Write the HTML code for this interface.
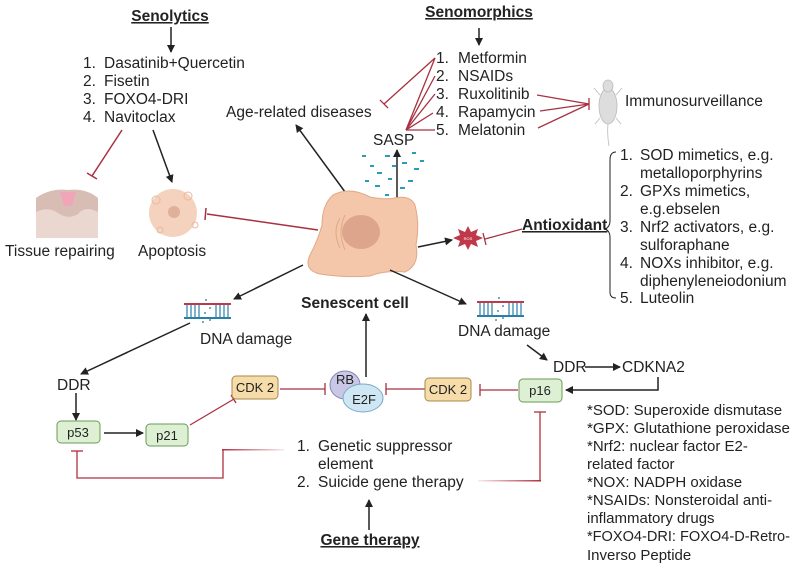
<!DOCTYPE html>
<html><head><meta charset="utf-8"><style>
html,body{margin:0;padding:0;background:#fff;}
svg{display:block;font-family:"Liberation Sans",sans-serif;}
</style></head><body>
<svg width="799" height="569" viewBox="0 0 799 569" xmlns="http://www.w3.org/2000/svg">
<defs>
<marker id="ab" markerWidth="8" markerHeight="8" refX="7" refY="4" orient="auto" markerUnits="userSpaceOnUse"><path d="M0,0 L8,4 L0,8 Z" fill="#222"/></marker>
<linearGradient id="fadeL" x1="0" x2="1"><stop offset="0" stop-color="#b03040"/><stop offset="1" stop-color="#b03040" stop-opacity="0.1"/></linearGradient>
<linearGradient id="fadeR" x1="0" x2="1"><stop offset="0" stop-color="#b03040" stop-opacity="0.1"/><stop offset="1" stop-color="#b03040"/></linearGradient>
</defs>
<g font-size="15.5" fill="#222">
<!-- Senolytics -->
<text x="170" y="21" text-anchor="middle" font-weight="bold" text-decoration="underline">Senolytics</text>
<line x1="171" y1="27" x2="171" y2="52" stroke="#222" stroke-width="1.5" marker-end="url(#ab)"/>
<text x="83" y="68">1.</text><text x="104" y="68">Dasatinib+Quercetin</text>
<text x="83" y="86">2.</text><text x="104" y="86">Fisetin</text>
<text x="83" y="104">3.</text><text x="104" y="104">FOXO4-DRI</text>
<text x="83" y="122">4.</text><text x="104" y="122">Navitoclax</text>
<line x1="122" y1="130" x2="92" y2="176" stroke="#a83040" stroke-width="1.5"/>
<line x1="87" y1="173" x2="97" y2="179" stroke="#a83040" stroke-width="1.5"/>
<line x1="153" y1="130" x2="172" y2="182" stroke="#222" stroke-width="1.5" marker-end="url(#ab)"/>
<!-- tissue -->
<rect x="36" y="198" width="62" height="40" fill="#ead7d0"/>
<path d="M36,198 Q50,188 68,190 Q86,188 98,198 L98,212 Q85,205 78,214 Q68,220 58,213 Q48,206 36,212 Z" fill="#d7bdb4"/>
<path d="M60,192 L76,192 L72,206 L64,206 Z" fill="#f0a6b8"/>
<text x="5" y="256">Tissue repairing</text>
<!-- apoptosis -->
<circle cx="173" cy="213" r="24" fill="#f5d2bd"/>
<circle cx="156" cy="200" r="4" fill="none" stroke="#e6b9a2"/><circle cx="188" cy="196" r="4" fill="none" stroke="#e6b9a2"/>
<circle cx="195" cy="225" r="3" fill="none" stroke="#e6b9a2"/><circle cx="160" cy="230" r="3" fill="none" stroke="#e6b9a2"/>
<circle cx="174" cy="212" r="6" fill="#e0b09a"/>
<text x="138" y="256">Apoptosis</text>
<line x1="318" y1="230" x2="207" y2="214" stroke="#a83040" stroke-width="1.5"/>
<line x1="206" y1="208" x2="205" y2="220" stroke="#a83040" stroke-width="1.5"/>
<!-- Senomorphics -->
<text x="479" y="17" text-anchor="middle" font-weight="bold" text-decoration="underline">Senomorphics</text>
<line x1="479" y1="28" x2="479" y2="45" stroke="#222" stroke-width="1.5" marker-end="url(#ab)"/>
<text x="436" y="63">1.</text><text x="458" y="63">Metformin</text>
<text x="436" y="81">2.</text><text x="458" y="81">NSAIDs</text>
<text x="436" y="99">3.</text><text x="458" y="99">Ruxolitinib</text>
<text x="436" y="117">4.</text><text x="458" y="117">Rapamycin</text>
<text x="436" y="135">5.</text><text x="458" y="135">Melatonin</text>
<g stroke="#a83040" stroke-width="1.3" fill="none">
<line x1="435" y1="58" x2="384" y2="104"/><line x1="380" y1="100" x2="388" y2="108"/>
<line x1="435" y1="58" x2="406" y2="130"/><line x1="435" y1="76" x2="406" y2="130"/>
<line x1="435" y1="94" x2="406" y2="130"/><line x1="433" y1="113" x2="406" y2="130"/>
<line x1="435" y1="130" x2="406" y2="130"/>
<line x1="537" y1="95" x2="589" y2="104"/><line x1="540" y1="111" x2="589" y2="104"/><line x1="538" y1="128" x2="589" y2="104"/>
<line x1="589" y1="98" x2="589" y2="110"/>
</g>
<!-- mouse -->
<g fill="#ddd" stroke="#bbb" stroke-width="0.8">
<ellipse cx="608" cy="106" rx="9" ry="18"/><ellipse cx="608" cy="86" rx="5" ry="6"/>
<path d="M600,95 L594,88 M616,95 L622,88 M600,118 L595,124 M616,118 L621,124" fill="none"/>
<path d="M608,124 Q607,135 609,146" fill="none"/>
</g>
<text x="625" y="106">Immunosurveillance</text>
<!-- age related / SASP -->
<text x="226" y="117">Age-related diseases</text>
<line x1="348" y1="196" x2="296" y2="125" stroke="#222" stroke-width="1.5" marker-end="url(#ab)"/>
<text x="373" y="145">SASP</text>
<line x1="397" y1="202" x2="397" y2="150" stroke="#222" stroke-width="1.5" marker-end="url(#ab)"/>
<g fill="#2a9bb8">
<rect x="362" y="155" width="4" height="2"/><rect x="385" y="155" width="5" height="2"/><rect x="412" y="152" width="4" height="2"/>
<rect x="370" y="165" width="4" height="2"/><rect x="402" y="162" width="5" height="2"/><rect x="414" y="168" width="5" height="2"/>
<rect x="377" y="172" width="5" height="2"/><rect x="388" y="178" width="4" height="2"/><rect x="408" y="180" width="5" height="2"/>
<rect x="375" y="185" width="5" height="2"/><rect x="400" y="187" width="5" height="2"/><rect x="420" y="160" width="4" height="2"/>
<rect x="385" y="194" width="4" height="2"/><rect x="365" y="180" width="4" height="2"/><rect x="392" y="165" width="4" height="2"/>
</g>
<!-- cell -->
<path d="M333,195 Q350,186 370,197 Q385,200 395,198 Q410,195 415,205 Q420,225 416,245 Q420,265 405,272 Q385,270 370,276 Q345,278 320,274 Q303,270 310,255 Q318,240 322,225 Q322,205 333,195 Z" fill="#f4c6aa" stroke="#e0a988" stroke-width="1"/>
<ellipse cx="361" cy="232" rx="19" ry="17" fill="#dea58d"/>
<path d="M340,218 Q332,232 340,248 M345,215 Q337,232 345,250" fill="none" stroke="#e0a988"/>
<text x="355" y="308" text-anchor="middle" font-weight="bold">Senescent cell</text>
<!-- ROS -->
<path d="M468,226 L471,232 L478,229 L476,235 L483,238 L476,241 L478,247 L471,244 L468,250 L465,244 L458,247 L460,241 L453,238 L460,235 L458,229 L465,232 Z" fill="#c0394a"/>
<text x="468" y="240" font-size="4" fill="#fff" text-anchor="middle">ROS</text>
<line x1="418" y1="247" x2="452" y2="240" stroke="#222" stroke-width="1.5" marker-end="url(#ab)"/>
<text x="522" y="230" font-weight="bold" text-decoration="underline">Antioxidant</text>
<line x1="522" y1="229" x2="485" y2="239" stroke="#a83040" stroke-width="1.3"/>
<line x1="483" y1="233" x2="486" y2="245" stroke="#a83040" stroke-width="1.3"/>
<path d="M616,152 Q610,152 610,160 L610,221 Q610,227 605,229 Q610,231 610,237 L610,292 Q610,298 616,298" fill="none" stroke="#222" stroke-width="1"/>
<text x="620" y="160">1.</text><text x="640" y="160">SOD mimetics, e.g.</text>
<text x="640" y="178">metalloporphyrins</text>
<text x="620" y="196">2.</text><text x="640" y="196">GPXs mimetics,</text>
<text x="640" y="214">e.g.ebselen</text>
<text x="620" y="232">3.</text><text x="640" y="232">Nrf2 activators, e.g.</text>
<text x="640" y="250">sulforaphane</text>
<text x="620" y="268">4.</text><text x="640" y="268">NOXs inhibitor, e.g.</text>
<text x="640" y="286">diphenyleneiodonium</text>
<text x="620" y="303">5.</text><text x="640" y="303">Luteolin</text>
<!-- DNA icons -->
<g id="dna">
<rect x="184" y="303" width="47" height="2" fill="#c0394a"/>
<rect x="184" y="317" width="47" height="2" fill="#2a7fa8"/>
<g stroke="#2a7fa8" stroke-width="1.2"><line x1="187" y1="305" x2="187" y2="317"/><line x1="191" y1="305" x2="191" y2="317"/><line x1="195" y1="305" x2="195" y2="317"/><line x1="199" y1="305" x2="199" y2="317"/><line x1="216" y1="305" x2="216" y2="317"/><line x1="220" y1="305" x2="220" y2="317"/><line x1="224" y1="305" x2="224" y2="317"/><line x1="228" y1="305" x2="228" y2="317"/></g>
<g fill="#4a90b0"><circle cx="206" cy="300" r="1"/><circle cx="210" cy="308" r="1"/><circle cx="205" cy="313" r="1"/><circle cx="210" cy="320" r="1"/><circle cx="203" cy="322" r="1"/></g>
</g>
<use href="#dna" transform="translate(293,-2)"/>
<text x="200" y="344">DNA damage</text>
<text x="458" y="336">DNA damage</text>
<line x1="303" y1="265" x2="234" y2="299" stroke="#222" stroke-width="1.5" marker-end="url(#ab)"/>
<line x1="390" y1="270" x2="466" y2="304" stroke="#222" stroke-width="1.5" marker-end="url(#ab)"/>
<line x1="190" y1="323" x2="81" y2="374" stroke="#222" stroke-width="1.5" marker-end="url(#ab)"/>
<line x1="527" y1="345" x2="547" y2="360" stroke="#222" stroke-width="1.5" marker-end="url(#ab)"/>
<!-- left pathway -->
<text x="57" y="390">DDR</text>
<line x1="76" y1="393" x2="76" y2="420" stroke="#222" stroke-width="1.5" marker-end="url(#ab)"/>
<rect x="57" y="421" width="43" height="22" rx="4" fill="#ddf0d3" stroke="#6a9a55"/>
<text x="78" y="437" text-anchor="middle" font-size="13">p53</text>
<line x1="104" y1="433" x2="143" y2="433" stroke="#222" stroke-width="1.5" marker-end="url(#ab)"/>
<rect x="146" y="424" width="42" height="22" rx="4" fill="#ddf0d3" stroke="#6a9a55"/>
<text x="167" y="440" text-anchor="middle" font-size="13">p21</text>
<line x1="190" y1="425" x2="234" y2="399" stroke="#a83040" stroke-width="1.3"/>
<line x1="231" y1="395" x2="236" y2="403" stroke="#a83040" stroke-width="1.3"/>
<rect x="232" y="376" width="46" height="23" rx="4" fill="#f6dca9" stroke="#a8884a"/>
<text x="255" y="392" text-anchor="middle" font-size="13">CDK 2</text>
<line x1="280" y1="389" x2="325" y2="389" stroke="#a83040" stroke-width="1.3"/>
<line x1="325" y1="383" x2="325" y2="395" stroke="#a83040" stroke-width="1.3"/>
<ellipse cx="345" cy="385" rx="15" ry="14" fill="#c9c7e6" stroke="#8a88b5"/>
<ellipse cx="363" cy="398" rx="20" ry="14" fill="#cfe6f3" stroke="#7aaac5"/>
<text x="345" y="384" text-anchor="middle" font-size="13">RB</text>
<text x="364" y="404" text-anchor="middle" font-size="13">E2F</text>
<line x1="366" y1="377" x2="366" y2="314" stroke="#222" stroke-width="1.5" marker-end="url(#ab)"/>
<line x1="425" y1="389" x2="386" y2="389" stroke="#a83040" stroke-width="1.3"/>
<line x1="386" y1="383" x2="386" y2="395" stroke="#a83040" stroke-width="1.3"/>
<rect x="425" y="378" width="46" height="23" rx="4" fill="#f6dca9" stroke="#a8884a"/>
<text x="448" y="394" text-anchor="middle" font-size="13">CDK 2</text>
<line x1="518" y1="390" x2="480" y2="390" stroke="#a83040" stroke-width="1.3"/>
<line x1="480" y1="384" x2="480" y2="396" stroke="#a83040" stroke-width="1.3"/>
<rect x="519" y="379" width="43" height="23" rx="4" fill="#ddf0d3" stroke="#6a9a55"/>
<text x="540" y="395" text-anchor="middle" font-size="13">p16</text>
<text x="553" y="372">DDR</text>
<line x1="585" y1="367" x2="620" y2="367" stroke="#222" stroke-width="1.5" marker-end="url(#ab)"/>
<text x="622" y="372">CDKNA2</text>
<path d="M658,377 L658,390 L566,390" fill="none" stroke="#222" stroke-width="1.5" marker-end="url(#ab)"/>
<!-- gene therapy -->
<text x="297" y="451">1.</text><text x="318" y="451">Genetic suppressor</text>
<text x="318" y="469">element</text>
<text x="297" y="487">2.</text><text x="318" y="487">Suicide gene therapy</text>
<text x="370" y="545" text-anchor="middle" font-weight="bold" text-decoration="underline">Gene therapy</text>
<line x1="369" y1="530" x2="369" y2="500" stroke="#222" stroke-width="1.5" marker-end="url(#ab)"/>
<rect x="222" y="449" width="62" height="1.5" fill="url(#fadeL)"/>
<path d="M223,450 L223,478 L77,478 L77,451" fill="none" stroke="#b03040" stroke-width="1.3"/>
<line x1="71" y1="451" x2="83" y2="451" stroke="#b03040" stroke-width="1.3"/>
<rect x="478" y="480" width="63" height="1.5" fill="url(#fadeR)"/>
<path d="M540,481 L540,412" fill="none" stroke="#b03040" stroke-width="1.3"/>
<line x1="534" y1="412" x2="546" y2="412" stroke="#b03040" stroke-width="1.3"/>
<!-- footnotes -->
<g font-size="15">
<text x="587" y="415">*SOD: Superoxide dismutase</text>
<text x="587" y="433" textLength="203" lengthAdjust="spacingAndGlyphs">*GPX: Glutathione peroxidase</text>
<text x="587" y="451">*Nrf2: nuclear factor E2-</text>
<text x="587" y="469">related factor</text>
<text x="587" y="487">*NOX: NADPH oxidase</text>
<text x="587" y="505">*NSAIDs: Nonsteroidal anti-</text>
<text x="587" y="523">inflammatory drugs</text>
<text x="587" y="541" textLength="203" lengthAdjust="spacingAndGlyphs">*FOXO4-DRI: FOXO4-D-Retro-</text>
<text x="587" y="560">Inverso Peptide</text>
</g>
</g>
</svg>
</body></html>
